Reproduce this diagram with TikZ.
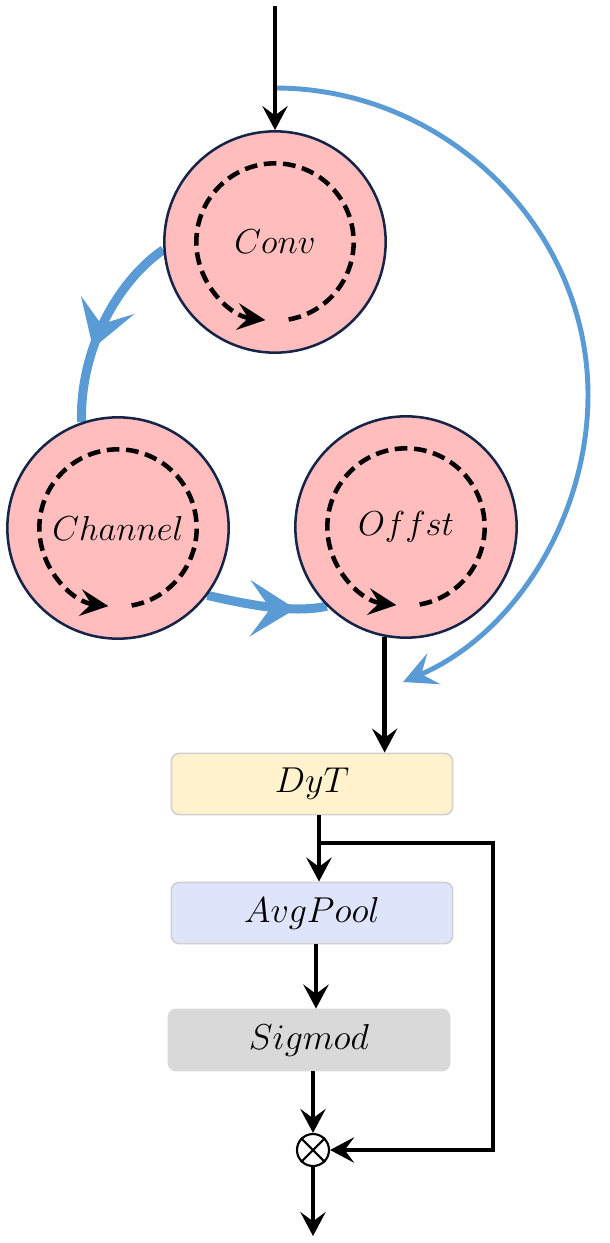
\documentclass[tikz,border=0pt]{standalone}
\usepackage{tikz}
\usepackage{fix-cm}
\usetikzlibrary{arrows.meta,decorations.markings,backgrounds}

\definecolor{ringfill}{RGB}{255,189,189}
\definecolor{ringedge}{RGB}{22,36,72}
\definecolor{loopblue}{RGB}{91,155,213}
\definecolor{dytfill}{RGB}{255,242,204}
\definecolor{poolfill}{RGB}{222,228,250}
\definecolor{sigfill}{RGB}{217,217,217}
\definecolor{boxedge}{RGB}{208,208,208}

\tikzset{every picture/.style={line width=0.75pt}}
\tikzset{
  opnode/.style={circle, draw=ringedge, fill=ringfill, line width=1.9pt, minimum size=166pt, inner sep=0pt, font=\fontsize{26}{30}\selectfont},
  blockbox/.style={rectangle, rounded corners=6pt, draw=boxedge, line width=1.2pt, minimum width=211pt, minimum height=46pt, inner sep=0pt, font=\fontsize{27}{30}\selectfont},
  flow/.style={line width=3.5pt, -{Stealth[length=18pt,width=19pt,inset=7pt]}},
  ringflow/.style={line width=3.4pt, dash pattern=on 9.5pt off 5pt, -{Stealth[length=21pt,width=20pt,inset=8pt]}},
  loopflow/.style={draw=loopblue, line width=6.8pt, postaction={decorate}, decoration={markings, mark=at position #1 with {\arrow{Stealth[length=34pt,width=42pt,inset=15pt,color=loopblue]}}}},
  loopflow/.default=0.5,
  skipflow/.style={draw=loopblue, line width=3.7pt, -{Stealth[length=25pt,width=25pt,inset=10pt]}},
}

\begin{document}
\begin{tikzpicture}[x=0.75pt,y=0.75pt,yscale=-1,xscale=1]
\useasboundingbox (0,0) rectangle (610,1243);

%Shape: Circle
\node[opnode] (conv) at (275,242) {$Conv$};
%Shape: Circle
\node[opnode] (chan) at (118,528) {$Channel$};
%Shape: Circle
\node[opnode] (offst) at (406,527) {$Offst$};

%Dashed rings
\draw[ringflow] (conv.center) ++(80:59pt) arc[start angle=80, end angle=-263, radius=59pt];
\draw[ringflow] (chan.center) ++(80:59pt) arc[start angle=80, end angle=-263, radius=59pt];
\draw[ringflow] (offst.center) ++(80:59pt) arc[start angle=80, end angle=-263, radius=59pt];

%Shape: Rectangle
\node[blockbox, fill=dytfill] (dyt) at (312,784) {$DyT$};
\node[blockbox, fill=poolfill] (pool) at (312,913) {$AvgPool$};
\node[blockbox, fill=sigfill, draw=sigfill] (sig) at (309,1040) {$Sigmod$};

%Shape: Circle Cross
\node[circle, draw, line width=1.6pt, minimum size=24pt, inner sep=0pt] (mul) at (313,1150) {};
\draw[line width=1.6pt] (mul.45) -- (mul.225) (mul.135) -- (mul.315);

\coordinate (in) at (275,6);
\coordinate (split) at (275,88);
\coordinate (rim) at (588,395);
\coordinate (tap) at (403,682);
\coordinate (tee) at (319,843);
\coordinate (rail) at (493,843);
\coordinate (out) at (313,1236);

%Curve Lines
\begin{scope}[on background layer]
\draw[skipflow] (split) .. controls +(170,0) and +(0,-168) .. (rim) .. controls +(0,122) and +(112,-48) .. (tap);
\draw[loopflow=0.62] (conv.184) .. controls +(-44,30) and +(-2,-75) .. (chan.109);
\draw[loopflow=0.74] (chan.-37) .. controls +(35,8) and +(-35,8) .. (offst.225);
\end{scope}

%Straight Lines
\draw[flow] (in) -- (conv.north);
\draw[flow] (offst.259) -- (offst.259 |- dyt.north);
\draw[flow] (dyt.south -| tee) -- (pool.north -| tee);
\draw[flow] (tee) -- (rail) |- (mul.east);
\draw[flow] ([xshift=3pt]pool.south) -- ([xshift=3pt]pool.south |- sig.north);
\draw[flow] (sig.south -| mul) -- (mul.north);
\draw[flow] (mul.south) -- (out);

\end{tikzpicture}
\end{document}
